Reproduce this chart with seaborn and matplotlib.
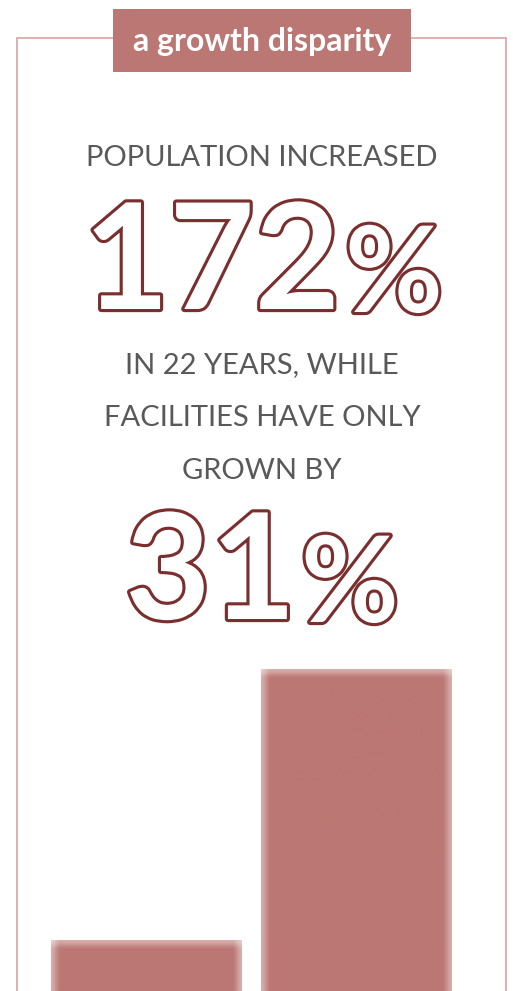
import numpy as np
import pandas as pd
import seaborn as sns
import matplotlib.pyplot as plt
import matplotlib.patheffects as pe
from matplotlib.patches import Rectangle
from matplotlib.colors import to_rgb

# --- data -------------------------------------------------------------
categories = ["Facilities", "Population"]
growth_pct = [31, 172]
headline_lines = ["POPULATION INCREASED"]
middle_lines = ["IN 22 YEARS, WHILE", "FACILITIES HAVE ONLY", "GROWN BY"]
title_text = "a growth disparity"

# --- style ------------------------------------------------------------
sns.set_theme(style="white")
plt.rcParams["font.family"] = ["Lato", "DejaVu Sans"]

ROSE = "#bb7773"
FRAME = "#dcaaaa"
OUTLINE = "#7a2e2e"
GREY = "#595959"

W, H = 513, 991
fig = plt.figure(figsize=(W / 100, H / 100), dpi=100)
fig.patch.set_facecolor("white")


def fx(px):
    return px / W


def fy(py):
    return 1 - py / H


# outer frame, running off the bottom of the page
fig.patches.append(Rectangle((fx(17), fy(1010)), fx(506) - fx(17), fy(38) - fy(1010),
                             transform=fig.transFigure, fill=False,
                             edgecolor=FRAME, linewidth=1.3, zorder=1))
# title tab
fig.patches.append(Rectangle((fx(113), fy(72)), fx(411) - fx(113), fy(9) - fy(72),
                             transform=fig.transFigure, facecolor=ROSE,
                             edgecolor="none", zorder=2))
fig.text(fx(262), fy(51), title_text, ha="center", va="baseline",
         color="white", fontsize=23, fontweight="bold", zorder=3)

# grey statement lines
fig.text(fx(262), fy(166), headline_lines[0], ha="center", va="baseline",
         color=GREY, fontsize=21)
for line, base in zip(middle_lines, [373, 426, 479]):
    fig.text(fx(262), fy(base), line, ha="center", va="baseline",
             color=GREY, fontsize=21)

# outlined figures
outline = [pe.withStroke(linewidth=4.5, foreground=OUTLINE)]


def big_number(value, right_px, base_px):
    fig.text(fx(right_px), fy(base_px), f"{value}", ha="right", va="baseline",
             color="white", fontsize=106, fontweight="bold",
             path_effects=outline)
    fig.text(fx(right_px + 5), fy(base_px + 3), "%", ha="left", va="baseline",
             color="white", fontsize=86, fontweight="bold",
             path_effects=outline)


big_number(growth_pct[1], 340, 309)
big_number(growth_pct[0], 296, 619)

# --- bars -------------------------------------------------------------
ax = fig.add_axes([fx(41), fy(1000), fx(461) - fx(41), fy(669) - fy(1000)])
df = pd.DataFrame({"group": categories, "growth": growth_pct})
sns.barplot(data=df, x="group", y="growth", color=ROSE, saturation=1,
            width=0.905, ax=ax, zorder=2)
ax.set_xlim(-0.5, 1.5)
ax.set_ylim(0, max(growth_pct))
ax.set_axis_off()
ax.patch.set_alpha(0)

# soft inner edge on each bar
base_rgb = np.array(to_rgb(ROSE))


def ramp(d, width=10.0, floor=0.6):
    t = np.clip(d / width, 0, 1)
    t = t * t * (3 - 2 * t)
    return floor + (1 - floor) * t


for bar in ax.patches:
    x0, y0 = bar.get_x(), bar.get_y()
    bw, bh = bar.get_width(), bar.get_height()
    (px0, py0), (px1, py1) = ax.transData.transform([(x0, y0), (x0 + bw, y0 + bh)])
    npx, npy = max(int(px1 - px0), 2), max(int(py1 - py0), 2)
    xs = np.arange(npx) + 0.5
    ys = np.arange(npy) + 0.5
    dx = np.minimum(xs, npx - xs)
    dy = np.minimum(ys, npy - ys)
    m = ramp(dy)[:, None] * ramp(dx)[None, :]
    img = base_rgb[None, None, :] * m[..., None] + (1 - m[..., None])
    im = ax.imshow(img, extent=(x0, x0 + bw, y0, y0 + bh), origin="lower",
                   aspect="auto", interpolation="bilinear", zorder=3)
    im.set_clip_path(bar)

ax.set_xlim(-0.5, 1.5)
ax.set_ylim(0, max(growth_pct))

fig.savefig("out.png", dpi=100)
